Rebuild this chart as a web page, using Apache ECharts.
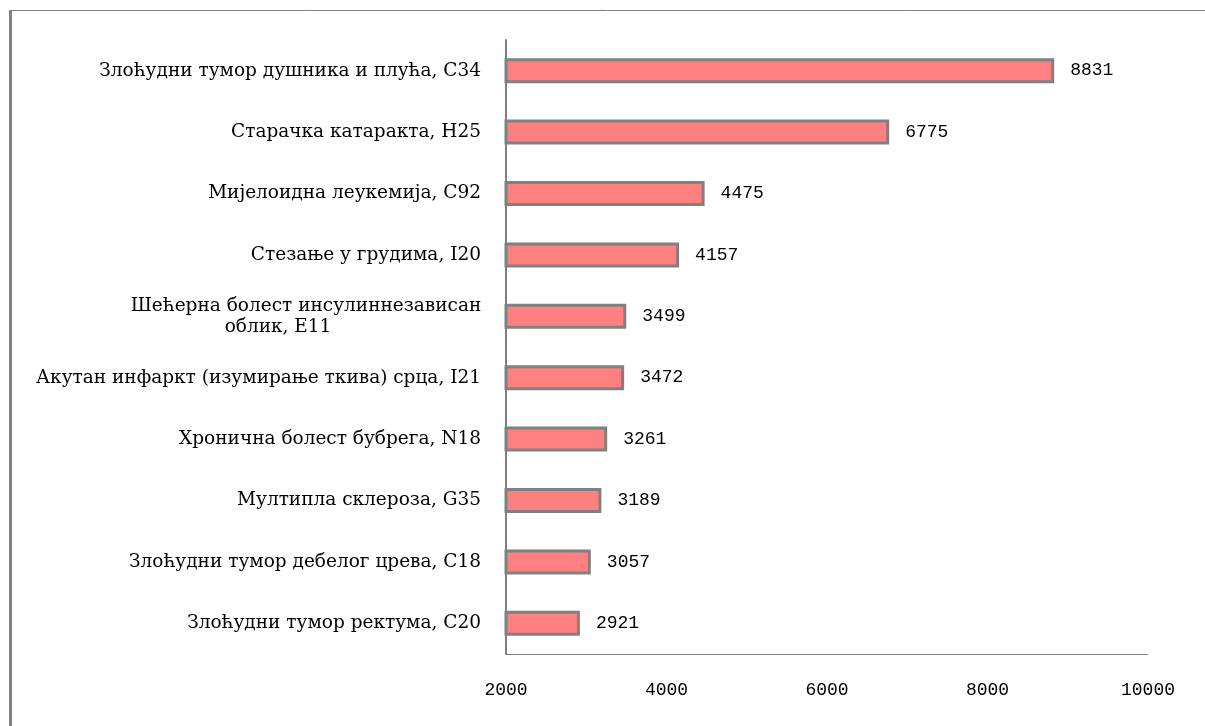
<!DOCTYPE html>
<html>
<head>
<meta charset="utf-8">
<script src="https://cdn.jsdelivr.net/npm/echarts@6/dist/echarts.min.js"></script>
<style>
  html, body { margin: 0; padding: 0; background: #fff; }
  #chart { width: 1205px; height: 726px; }
</style>
</head>
<body>
<div id="chart"></div>
<script>
// Diagnoses (top to bottom) and their case counts
const categories = [
  'Злоћудни тумор душника и плућа, C34',
  'Старачка катаракта, H25',
  'Мијелоидна леукемија, C92',
  'Стезање у грудима, I20',
  'Шећерна болест инсулиннезависан\nоблик, E11',
  'Акутан инфаркт (изумирање ткива) срца, I21',
  'Хронична болест бубрега, N18',
  'Мултипла склероза, G35',
  'Злоћудни тумор дебелог црева, C18',
  'Злоћудни тумор ректума, C20'
];
const values = [8831, 6775, 4475, 4157, 3499, 3472, 3261, 3189, 3057, 2921];
const xTicks = [2000, 4000, 6000, 8000, 10000];

const chart = echarts.init(document.getElementById('chart'), null, { renderer: 'canvas' });

const serif = '"DejaVu Serif", "Liberation Serif", serif';
const mono = '"Liberation Mono", "DejaVu Sans Mono", monospace';

// Wrapped category names: each line centred in its own box
function categoryLabel(name) {
  const lines = name.split('\n');
  if (lines.length === 1) return name;
  return '{a|' + lines[0] + '}\n{b|' + lines[1] + '}';
}

chart.setOption({
  backgroundColor: '#ffffff',
  animation: false,
  graphic: [
    // outer frame: thin top rule and heavier left rule
    { type: 'line', shape: { x1: 10, y1: 10.5, x2: 1205, y2: 10.5 },
      style: { stroke: '#808080', lineWidth: 1 } },
    { type: 'rect', shape: { x: 9, y: 10, width: 3, height: 716 },
      style: { fill: '#808080' } }
  ],
  grid: { left: 506, right: 57, top: 40, bottom: 72, containLabel: false },
  xAxis: {
    type: 'value',
    min: xTicks[0],
    max: xTicks[xTicks.length - 1],
    interval: xTicks[1] - xTicks[0],
    axisLine: { show: true, lineStyle: { color: '#808080', width: 1 } },
    axisTick: { show: false },
    splitLine: { show: false },
    axisLabel: {
      color: '#000', fontFamily: mono, fontSize: 18, margin: 27,
      formatter: v => String(v)
    }
  },
  yAxis: {
    type: 'category',
    inverse: true,
    data: categories,
    axisLine: { show: true, lineStyle: { color: '#808080', width: 2 } },
    axisTick: { show: false },
    axisLabel: {
      color: '#000', fontFamily: serif, fontSize: 18.5, margin: 25,
      align: 'right', lineHeight: 21,
      formatter: categoryLabel,
      rich: {
        a: { fontFamily: serif, fontSize: 18.5, color: '#000', lineHeight: 21,
             width: 350, align: 'center' },
        b: { fontFamily: serif, fontSize: 18.5, color: '#000', lineHeight: 21,
             width: 294, padding: [0, 56, 0, 0], align: 'center' }
      }
    }
  },
  series: [{
    type: 'bar',
    data: values,
    barWidth: 25,
    itemStyle: { color: '#FF8080', borderColor: '#808080', borderWidth: 3 },
    label: {
      show: true, position: 'right', distance: 16,
      color: '#000', fontFamily: mono, fontSize: 18
    }
  }]
});
</script>
</body>
</html>
